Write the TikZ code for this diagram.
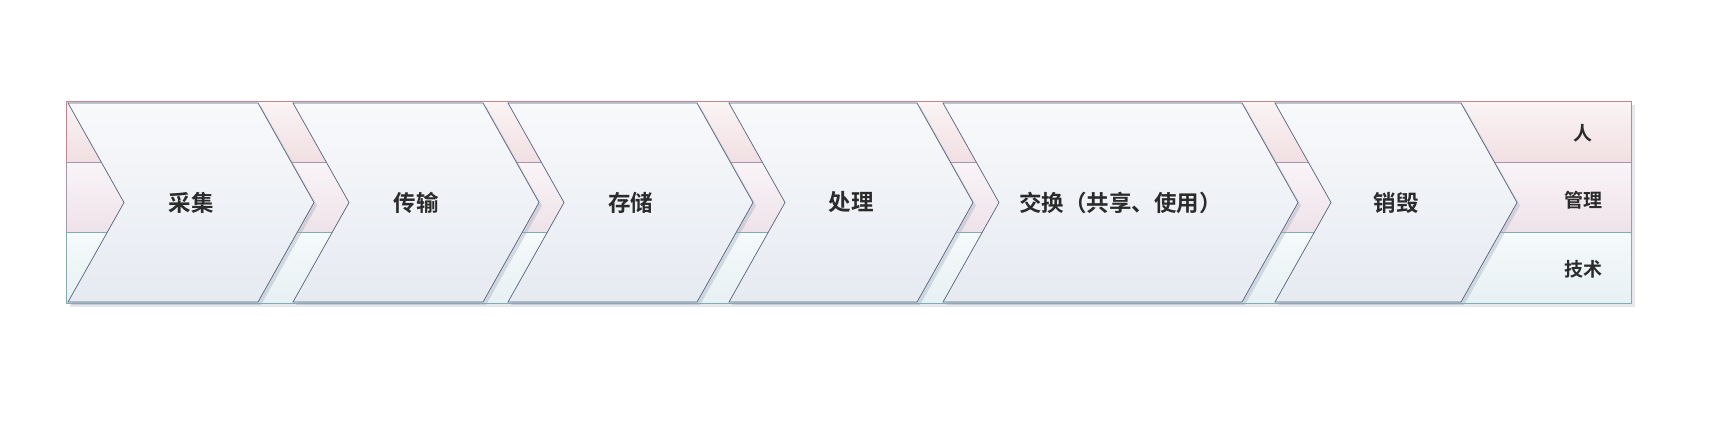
\documentclass[tikz,border=0pt]{standalone}
\usepackage{fontspec}
\newfontfamily\cjk{Noto Sans CJK SC}[BoldFont={Noto Sans CJK SC Bold}]
\usetikzlibrary{positioning}

\definecolor{chevline}{HTML}{56647E}
\definecolor{chevtop}{HTML}{F8F9FB}
\definecolor{chevbot}{HTML}{E6EAF1}
\definecolor{shadowgrey}{HTML}{9AA5B8}
\definecolor{textdark}{HTML}{2B2B2B}
\definecolor{peopleline}{HTML}{C4868E}
\definecolor{peopletop}{HTML}{FAF3F4}
\definecolor{peoplebot}{HTML}{F1DFE2}
\definecolor{mgmtline}{HTML}{A596AE}
\definecolor{mgmttop}{HTML}{F9F4F7}
\definecolor{mgmtbot}{HTML}{EEE2E9}
\definecolor{techline}{HTML}{85AAB4}
\definecolor{techtop}{HTML}{F5FAFB}
\definecolor{techbot}{HTML}{E7F0F3}

\begin{document}
\begin{tikzpicture}[
    x=0.02cm, y=-0.02cm,
    peoplerow/.style={draw=peopleline, line width=0.6pt, top color=peopletop, bottom color=peoplebot},
    mgmtrow/.style  ={draw=mgmtline,   line width=0.6pt, top color=mgmttop,   bottom color=mgmtbot},
    techrow/.style  ={draw=techline,   line width=0.6pt, top color=techtop,   bottom color=techbot},
    chev/.style     ={draw=chevline, line width=0.4pt, top color=chevtop, bottom color=chevbot},
    chevshadow/.style={fill=shadowgrey, opacity=0.35},
    steplabel/.style={font=\cjk\bfseries\fontsize{12.8}{14}\selectfont, text=textdark},
    sidelabel/.style={font=\cjk\bfseries\fontsize{10.8}{12}\selectfont, text=textdark},
]
\useasboundingbox (0,0) rectangle (1726,440);

% ── Band of three rows ─────────────────────────────────────────────────
\fill[shadowgrey, opacity=0.25] (70,105) rectangle (1635,307);
\path[peoplerow] (66.7,101.7) rectangle (1631,162.7);
\path[mgmtrow]   (66.7,162.7) rectangle (1631,232.7);
\path[techrow]   (66.7,232.7) rectangle (1631,303.3);

% ── Lifecycle stages ───────────────────────────────────────────────────
\foreach \l/\r/\name/\txt in {68/258/collect/采集, 293/483/transfer/传输,
                              508/697/store/存储, 729/917/process/处理,
                              943/1242/exchange/交换（共享、使用）, 1275/1461/destroy/销毁} {
  \fill[chevshadow] (\l+3,106) -- (\r+3,106) -- (\r+59,205.5) -- (\r+3,305) -- (\l+3,305) -- (\l+59,205.5) -- cycle;
  \path[chev] (\l,103) -- (\r,103) -- (\r+56,202.5) -- (\r,302) -- (\l,302) -- (\l+56,202.5) -- cycle;
  \node[steplabel] (\name) at ({(\l+\r+56)/2},202.5) {\txt};
}

% ── Row labels ─────────────────────────────────────────────────────────
\node[sidelabel] (people) at (1583,133) {人};
\node[sidelabel] (mgmt)   at (1583,200) {管理};
\node[sidelabel] (tech)   at (1583,269) {技术};

\end{tikzpicture}
\end{document}
